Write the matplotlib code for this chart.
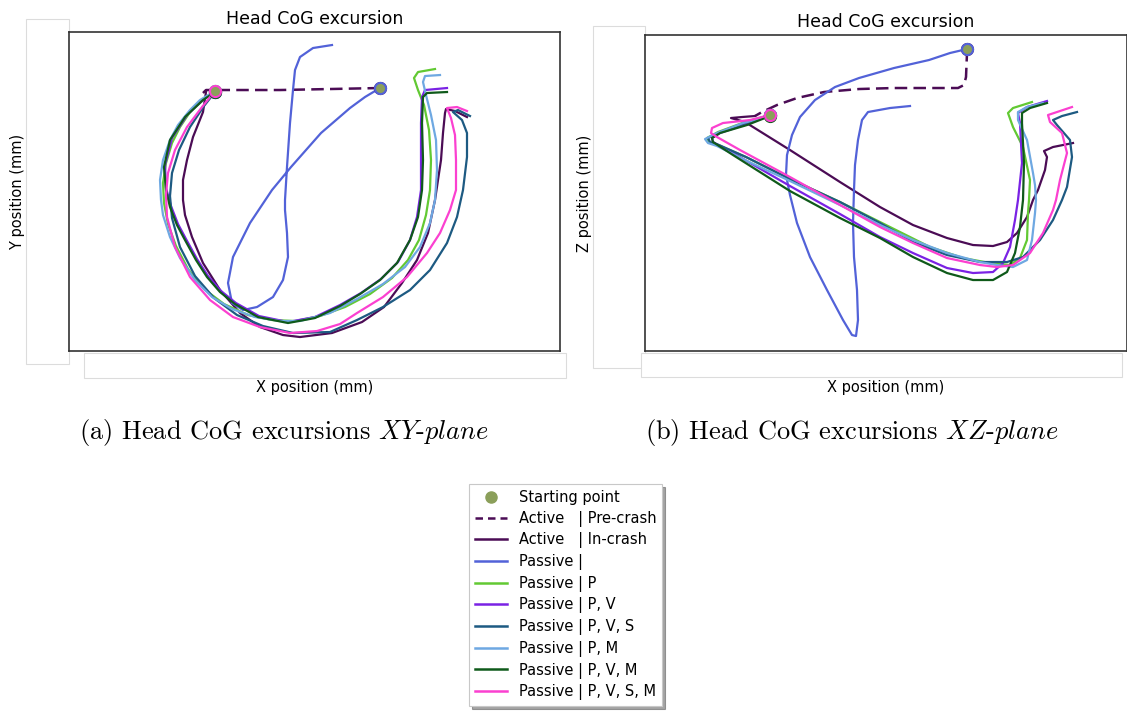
import matplotlib.pyplot as plt
from matplotlib.lines import Line2D
from matplotlib.patches import Rectangle

plt.rcParams['mathtext.fontset'] = 'cm'

# ---- XY plane (mm) ----
xy_pre_x = [311, 261, 211, 161, 137, 134]
xy_pre_y = [263, 262, 261, 261, 261, 258]
xy_in_x = [137, 134, 124, 118, 114, 114, 116, 123, 134, 151, 171, 191, 214, 231, 263, 293,
           315, 333, 348, 359, 366, 372, 374, 376, 377, 386, 398]
xy_in_y = [259, 239, 214, 191, 171, 151, 136, 114, 88, 61, 38, 24, 16, 14, 18, 29,
           44, 68, 91, 118, 151, 191, 218, 238, 242, 240, 234]
xy_p0_x = [311, 296, 281, 252, 222, 203, 181, 164, 159, 163, 174, 188, 204, 214, 219, 218,
           216, 216, 218, 221, 224, 226, 231, 244, 263]
xy_p0_y = [263, 254, 243, 218, 184, 161, 128, 94, 68, 48, 41, 44, 54, 71, 94, 118,
           141, 151, 184, 228, 261, 281, 294, 303, 306]
xy_p_x = [146, 132, 121, 111, 103, 97, 94, 95, 99, 107, 119, 135, 155, 179, 203, 226,
          251, 276, 301, 323, 339, 350, 357, 361, 362, 360, 355, 349, 345, 349, 366]
xy_p_y = [260, 250, 239, 224, 208, 188, 168, 148, 127, 105, 82, 62, 47, 36, 31, 30,
          35, 44, 57, 73, 91, 111, 136, 161, 191, 221, 246, 261, 273, 279, 282]
xy_pv_x = [146, 135, 118, 103, 96, 97, 102, 109, 117, 128, 139, 152, 167, 190, 219, 246,
           271, 292, 312, 329, 341, 348, 352, 352, 352, 353, 356, 378]
xy_pv_y = [259, 252, 236, 213, 186, 163, 145, 127, 112, 92, 75, 60, 48, 35, 29, 34,
           46, 58, 72, 89, 111, 134, 161, 191, 228, 254, 261, 263]
xy_pvs_x = [146, 135, 121, 110, 103, 101, 103, 111, 126, 145, 168, 194, 224, 261, 288, 314,
            341, 361, 378, 388, 394, 398, 398, 393, 384, 389, 401]
xy_pvs_y = [259, 245, 224, 201, 178, 155, 133, 104, 75, 53, 36, 25, 18, 19, 31, 44,
            61, 81, 108, 134, 161, 194, 218, 231, 239, 241, 235]
xy_pm_x = [146, 131, 121, 109, 101, 94, 91, 92, 94, 101, 111, 126, 143, 163, 186, 211,
           231, 261, 288, 314, 336, 351, 361, 366, 368, 367, 362, 357, 354, 356, 371]
xy_pm_y = [260, 251, 241, 226, 211, 191, 171, 151, 136, 114, 93, 71, 54, 42, 34, 30,
           30, 38, 52, 67, 84, 104, 128, 151, 181, 211, 236, 256, 269, 275, 276]
xy_pvm_x = [146, 134, 116, 101, 95, 97, 101, 108, 116, 127, 138, 151, 166, 189, 219, 246,
            271, 291, 311, 328, 341, 349, 353, 354, 353, 354, 358, 378]
xy_pvm_y = [259, 251, 234, 211, 184, 161, 144, 126, 111, 91, 74, 59, 47, 34, 28, 33,
            45, 57, 71, 88, 111, 134, 161, 191, 228, 254, 258, 259]
xy_pvsm_x = [146, 133, 118, 106, 99, 97, 98, 106, 121, 141, 164, 191, 221, 248, 271, 288,
             314, 338, 358, 371, 381, 387, 387, 386, 382, 378, 388, 398]
xy_pvsm_y = [260, 244, 224, 201, 178, 156, 134, 104, 74, 51, 34, 24, 18, 20, 27, 38,
             54, 74, 98, 118, 141, 161, 191, 216, 233, 243, 244, 240]

# ---- XZ plane (mm) ----
xz_pre_x = [322, 322, 321, 319, 313, 284, 249, 214, 179, 152, 132, 117, 110]
xz_pre_z = [302, 298, 274, 266, 263, 263, 263, 262, 259, 253, 246, 239, 235]
xz_in_x = [110, 97, 86, 100, 145, 195, 235, 268, 302, 328, 348, 362, 372, 382, 388, 393,
           400, 402, 399, 408, 428]
xz_in_z = [235, 234, 233, 229, 201, 169, 144, 126, 113, 106, 105, 109, 118, 134, 151, 161,
           181, 194, 200, 204, 208]
xz_p0_x = [322, 305, 284, 249, 214, 190, 170, 155, 147, 142, 141, 145, 152, 165, 182, 198,
           207, 211, 213, 212, 209, 208, 209, 210, 213, 217, 223, 245, 265]
xz_p0_z = [302, 298, 291, 283, 273, 264, 251, 234, 216, 196, 176, 156, 128, 94, 61, 31,
           16, 15, 31, 61, 94, 128, 161, 186, 211, 231, 239, 243, 245]
xz_p_x = [125, 100, 73, 62, 64, 73, 101, 145, 195, 235, 285, 318, 345, 365, 375, 382,
          383, 384, 385, 378, 368, 363, 368, 387]
xz_p_z = [236, 229, 219, 213, 209, 206, 194, 172, 149, 129, 104, 93, 88, 86, 93, 111,
          138, 151, 171, 204, 224, 238, 243, 249]
xz_pv_x = [125, 102, 75, 67, 68, 88, 145, 195, 235, 268, 302, 328, 348, 358, 365, 370,
           373, 377, 375, 373, 382, 402]
xz_pv_z = [236, 227, 218, 213, 209, 198, 165, 137, 114, 98, 83, 78, 79, 88, 104, 131,
           151, 188, 228, 238, 244, 250]
xz_pvs_x = [125, 100, 75, 63, 65, 74, 101, 145, 195, 235, 268, 302, 335, 362, 378, 395,
            408, 417, 422, 427, 425, 412, 408, 417, 432]
xz_pvs_z = [236, 228, 219, 213, 209, 206, 194, 172, 149, 128, 109, 96, 89, 89, 94, 111,
            131, 151, 164, 194, 211, 226, 231, 235, 239]
xz_pm_x = [125, 122, 98, 72, 60, 63, 72, 100, 145, 195, 235, 268, 302, 335, 352, 368,
           382, 387, 390, 391, 390, 388, 382, 373, 373, 382, 398]
xz_pm_z = [236, 234, 228, 218, 212, 208, 205, 191, 170, 146, 126, 111, 98, 89, 86, 84,
           91, 111, 138, 151, 166, 178, 211, 231, 239, 244, 248]
xz_pvm_x = [125, 102, 75, 67, 68, 88, 145, 195, 235, 268, 302, 328, 348, 362, 370, 375,
            378, 379, 377, 377, 385, 402]
xz_pvm_z = [235, 226, 218, 213, 209, 196, 160, 133, 113, 94, 78, 71, 71, 79, 98, 124,
            151, 188, 228, 238, 243, 248]
xz_pvsm_x = [125, 105, 78, 67, 66, 72, 95, 145, 188, 235, 268, 302, 335, 352, 368, 385,
             398, 408, 411, 415, 422, 417, 405, 403, 412, 427]
xz_pvsm_z = [236, 231, 228, 223, 218, 214, 201, 174, 150, 124, 108, 93, 86, 84, 86, 98,
             118, 141, 151, 171, 198, 218, 229, 236, 239, 244]

labels = ['Passive |', 'Passive | P', 'Passive | P, V', 'Passive | P, V, S',
          'Passive | P, M', 'Passive | P, V, M', 'Passive | P, V, S, M']
colors = ['#5262d8', '#62c933', '#7a22e4', '#1d5a82', '#6ea8e2', '#0f5a1a', '#fb40d0']
active_color = '#4b0c55'
start_color = '#8b9f5a'

xy_passive = [(xy_p0_x, xy_p0_y), (xy_p_x, xy_p_y), (xy_pv_x, xy_pv_y), (xy_pvs_x, xy_pvs_y),
              (xy_pm_x, xy_pm_y), (xy_pvm_x, xy_pvm_y), (xy_pvsm_x, xy_pvsm_y)]
xz_passive = [(xz_p0_x, xz_p0_z), (xz_p_x, xz_p_z), (xz_pv_x, xz_pv_z), (xz_pvs_x, xz_pvs_z),
              (xz_pm_x, xz_pm_z), (xz_pvm_x, xz_pvm_z), (xz_pvsm_x, xz_pvsm_z)]

fig = plt.figure(figsize=(11.27, 7.11), dpi=100)

# faint frames left behind the axes
ghost = [(26, 19, 43, 345), (84, 353, 482, 25), (593, 26, 52, 342), (641, 353, 481, 24)]
for gx, gy, gw, gh in ghost:
    fig.patches.append(Rectangle((gx / 1127, 1 - (gy + gh) / 711), gw / 1127, gh / 711,
                                 transform=fig.transFigure, facecolor='white',
                                 edgecolor='#dcdcdc', lw=0.8, zorder=-1))

ax1 = fig.add_axes([69 / 1127, 0.5063, 491 / 1127, 319 / 711])
ax2 = fig.add_axes([645 / 1127, 0.5063, 482 / 1127, 316 / 711])


def draw(ax, pre, inc, passive):
    ax.plot(pre[0], pre[1], color=active_color, lw=1.8, dashes=(5, 2.5))
    ax.plot(inc[0], inc[1], color=active_color, lw=1.6, solid_joinstyle='round')
    ax.plot(pre[0][0], pre[1][0], 'o', color=start_color, mec=active_color, ms=8, mew=1.5, zorder=3)
    for (px, py), c in zip(passive, colors):
        ax.plot(px, py, color=c, lw=1.6, solid_joinstyle='round')
    for (px, py), c in zip(passive, colors):
        ax.plot(px[0], py[0], 'o', color=start_color, mec=c, ms=8, mew=1.5, zorder=3)
    ax.set_xticks([])
    ax.set_yticks([])
    for s in ax.spines.values():
        s.set_color('#333333')
        s.set_linewidth(1.2)
    ax.set_title('Head CoG excursion', fontsize=12.5)


draw(ax1, (xy_pre_x, xy_pre_y), (xy_in_x, xy_in_y), xy_passive)
ax1.set_xlim(0, 491)
ax1.set_ylim(0, 319)
ax1.set_xlabel('X position (mm)', fontsize=10.5, labelpad=21)
ax1.set_ylabel('Y position (mm)', fontsize=10.5, labelpad=32)

draw(ax2, (xz_pre_x, xz_pre_z), (xz_in_x, xz_in_z), xz_passive)
ax2.set_xlim(0, 482)
ax2.set_ylim(0, 316)
ax2.set_xlabel('X position (mm)', fontsize=10.5, labelpad=21)
ax2.set_ylabel('Z position (mm)', fontsize=10.5, labelpad=38)

fig.text(0.252, 0.392, r'(a) Head CoG excursions $\mathit{XY}$-$\mathit{plane}$',
         family='cmr10', fontsize=19, ha='center', va='center')
fig.text(0.756, 0.392, r'(b) Head CoG excursions $\mathit{XZ}$-$\mathit{plane}$',
         family='cmr10', fontsize=19, ha='center', va='center')

handles = [Line2D([], [], ls='none', marker='o', color=start_color, ms=8),
           Line2D([], [], color=active_color, lw=1.8, dashes=(3, 2)),
           Line2D([], [], color=active_color, lw=1.8)]
handles += [Line2D([], [], color=c, lw=1.8) for c in colors]
leg_labels = ['Starting point', 'Active   | Pre-crash', 'Active   | In-crash'] + labels
leg = fig.legend(handles, leg_labels, loc='center', bbox_to_anchor=(0.502, 0.163),
                 fontsize=10.5, labelspacing=0.39, handlelength=2.2, handletextpad=0.8,
                 fancybox=False, shadow=True, edgecolor='#c8c8c8')
leg.get_frame().set_linewidth(0.8)

fig.savefig('out.png', dpi=100)
